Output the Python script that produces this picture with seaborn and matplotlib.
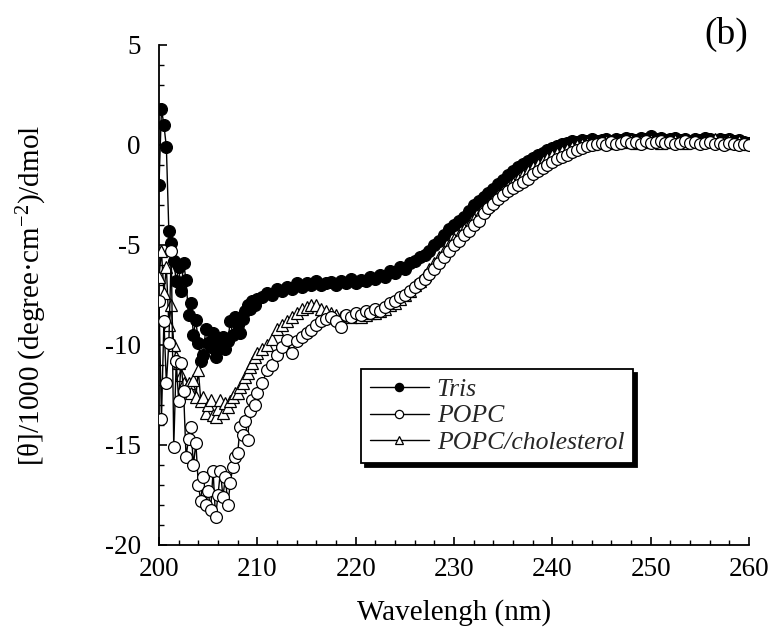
import numpy as np
import pandas as pd
import matplotlib
matplotlib.use("Agg")
import matplotlib.pyplot as plt
import seaborn as sns

# ---------------- data ----------------
wl_fine = [200.00, 200.25, 200.50, 200.75, 201.00, 201.25, 201.50, 201.75, 202.00, 202.25,
           202.50, 202.75, 203.00, 203.25, 203.50, 203.75, 204.00, 204.25, 204.50, 204.75,
           205.00, 205.25, 205.50, 205.75, 206.00, 206.25, 206.50, 206.75, 207.00, 207.25,
           207.50, 207.75, 208.00, 208.25, 208.50, 208.75, 209.00, 209.25, 209.50, 209.75,
           210.00]
wl_coarse = list(np.arange(210.5, 260.01, 0.5))
wavelength = wl_fine + wl_coarse

tris = [-2.0, 1.8, 1.0, -0.1, -4.3, -4.9, -5.8, -6.8, -6.1, -7.3,
        -5.9, -6.75, -8.5, -7.9, -9.5, -8.75, -9.9, -10.8, -10.5, -9.2,
        -9.9, -10.1, -9.4, -10.6, -9.9, -10.1, -9.6, -10.2, -9.8, -8.8,
        -9.5, -8.6, -9.0, -9.4, -8.7, -8.3, -8.0, -8.2, -7.8, -8.0,
        -7.7,
        -7.6, -7.4, -7.5, -7.2, -7.3, -7.1, -7.2, -6.9, -7.1, -6.9,
        -7.0, -6.8, -7.0, -6.9, -6.85, -7.0, -6.8, -6.9, -6.7, -6.9,
        -6.75, -6.8, -6.6, -6.7, -6.5, -6.6, -6.3, -6.4, -6.1, -6.2,
        -5.9, -5.8, -5.6, -5.5, -5.3, -5.0, -4.8, -4.5, -4.2, -4.0,
        -3.8, -3.6, -3.3, -3.0, -2.8, -2.6, -2.4, -2.2, -1.95, -1.75,
        -1.5, -1.3, -1.1, -0.95, -0.8, -0.65, -0.5, -0.4, -0.25, -0.15,
        -0.05, 0.05, 0.1, 0.2, 0.15, 0.25, 0.2, 0.3, 0.2, 0.25,
        0.3, 0.2, 0.3, 0.25, 0.35, 0.3, 0.25, 0.35, 0.3, 0.45,
        0.3, 0.35, 0.25, 0.3, 0.35, 0.25, 0.3, 0.2, 0.3, 0.25,
        0.35, 0.3, 0.2, 0.3, 0.25, 0.3, 0.2, 0.25, 0.15, 0.1]

popc = [-7.8, -13.7, -8.8, -11.9, -9.9, -5.3, -15.1, -10.8, -12.8, -10.9,
        -12.3, -15.6, -14.7, -14.1, -16.0, -14.9, -17.0, -17.8, -16.6, -18.0,
        -17.3, -18.25, -16.3, -18.6, -17.5, -16.3, -17.6, -16.6, -18.0, -16.9,
        -16.1, -15.6, -15.4, -14.1, -14.5, -13.8, -14.75, -13.3, -12.75, -13.0,
        -12.4,
        -11.9, -11.25, -11.0, -10.5, -10.1, -9.75, -10.4, -9.8, -9.6, -9.4,
        -9.25, -9.0, -8.8, -8.7, -8.6, -8.8, -9.1, -8.5, -8.6, -8.4,
        -8.5, -8.3, -8.4, -8.2, -8.3, -8.1, -7.9, -7.8, -7.6, -7.5,
        -7.3, -7.1, -6.9, -6.7, -6.45, -6.2, -5.9, -5.6, -5.3, -5.0,
        -4.8, -4.5, -4.3, -4.0, -3.8, -3.4, -3.15, -2.95, -2.7, -2.5,
        -2.3, -2.15, -2.0, -1.85, -1.7, -1.45, -1.3, -1.15, -1.0, -0.85,
        -0.7, -0.6, -0.5, -0.35, -0.25, -0.15, -0.05, 0.0, 0.05, 0.1,
        0.0, 0.15, 0.05, 0.1, 0.2, 0.1, 0.15, 0.05, 0.2, 0.1,
        0.15, 0.2, 0.1, 0.15, 0.05, 0.1, 0.2, 0.1, 0.15, 0.05,
        0.1, 0.15, 0.05, 0.1, 0.0, 0.1, 0.05, 0.0, 0.05, 0.0]

popc_chol = [-6.6, -5.3, -7.4, -6.1, -9.0, -8.0, -10.0, -10.6, -10.9, -11.5,
             -11.9, -12.2, -11.9, -12.4, -11.75, -12.6, -11.25, -12.8, -12.6, -13.4,
             -13.0, -12.75, -13.5, -13.6, -13.2, -12.75, -13.4, -12.9, -13.1, -12.8,
             -12.6, -12.4, -12.4, -12.1, -11.9, -11.6, -11.4, -11.1, -10.9, -10.6,
             -10.4,
             -10.2, -10.0, -9.7, -9.2, -9.0, -8.8, -8.6, -8.4, -8.2, -8.1,
             -8.0, -8.0, -8.2, -8.3, -8.4, -8.5, -8.6, -8.5, -8.6, -8.5,
             -8.6, -8.5, -8.4, -8.4, -8.3, -8.2, -8.0, -7.9, -7.7, -7.5,
             -7.3, -7.0, -6.8, -6.5, -6.2, -5.9, -5.6, -5.3, -5.0, -4.7,
             -4.5, -4.2, -4.0, -3.7, -3.5, -3.2, -3.0, -2.75, -2.5, -2.3,
             -2.1, -1.9, -1.7, -1.5, -1.3, -1.1, -0.95, -0.8, -0.65, -0.5,
             -0.4, -0.3, -0.2, -0.1, 0.0, 0.05, 0.1, 0.05, 0.15, 0.1,
             0.2, 0.15, 0.1, 0.2, 0.15, 0.25, 0.1, 0.2, 0.15, 0.25,
             0.2, 0.1, 0.2, 0.15, 0.25, 0.2, 0.1, 0.2, 0.25, 0.15,
             0.2, 0.25, 0.3, 0.2, 0.15, 0.25, 0.1, 0.2, 0.1, 0.05]

series_names = ["Tris", "POPC", "POPC/cholesterol"]
x_ticks = [200, 210, 220, 230, 240, 250, 260]
y_ticks = [-20, -15, -10, -5, 0, 5]

# ---------------- style ----------------
sns.set_theme(style="ticks")
plt.rcParams["font.family"] = ["Liberation Serif", "DejaVu Serif"]
plt.rcParams["mathtext.fontset"] = "custom"
plt.rcParams["mathtext.rm"] = "Liberation Serif"
plt.rcParams["mathtext.it"] = "Liberation Serif:italic"
plt.rcParams["axes.unicode_minus"] = False

fig = plt.figure(figsize=(7.73, 6.34), dpi=100)
ax = fig.add_axes([159 / 773, 89 / 634, 590 / 773, 500 / 634])

styles = {
    "Tris": dict(marker="o", mfc="black", zorder=3),
    "POPC": dict(marker="o", mfc="white", zorder=5),
    "POPC/cholesterol": dict(marker="^", mfc="white", zorder=4),
}
data = {"Tris": tris, "POPC": popc, "POPC/cholesterol": popc_chol}

for name in series_names:
    df = pd.DataFrame({"wl": wavelength, "val": data[name]})
    st = styles[name]
    sns.lineplot(data=df, x="wl", y="val", ax=ax, color="black", lw=1.0,
                 marker=st["marker"], markersize=8.5, markerfacecolor=st["mfc"],
                 markeredgecolor="black", markeredgewidth=0.9, label=name,
                 zorder=st["zorder"], sort=False, estimator=None)

ax.set_xlim(200, 260)
ax.set_ylim(-20, 5)
ax.set_xticks(x_ticks)
ax.set_yticks(y_ticks)
ax.set_xticks(np.arange(200, 261, 2), minor=True)
ax.set_yticks(np.arange(-20, 5.1, 1), minor=True)
ax.tick_params(axis="both", which="major", direction="in", length=6, width=1.2,
               labelsize=19.5, color="black", labelcolor="black")
ax.tick_params(axis="both", which="minor", direction="in", length=3.5, width=1.0,
               color="black")
ax.tick_params(axis="x", which="major", pad=9)
ax.tick_params(axis="y", which="major", pad=13)

for s in ["top", "right"]:
    ax.spines[s].set_visible(False)
for s in ["left", "bottom"]:
    ax.spines[s].set_color("black")
    ax.spines[s].set_linewidth(1.3)

ax.set_xlabel("Wavelengh (nm)", fontsize=21, color="black", labelpad=12)
ax.set_ylabel("[θ]/1000 (degree·cm$^{-2}$)/dmol", fontsize=21, color="black",
              labelpad=40)

leg = ax.legend(loc="center", bbox_to_anchor=(0.573, 0.258), frameon=True,
                fancybox=False, shadow={"color": "black", "alpha": 1.0, "ox": 3, "oy": -3},
                edgecolor="black", framealpha=1.0, markerscale=0.7,
                prop={"family": "Liberation Serif", "style": "italic", "size": 18.5},
                handlelength=2.3, handletextpad=0.3, labelspacing=0.15,
                borderpad=0.35, borderaxespad=0)
leg.get_frame().set_linewidth(1.3)

fig.text(0.940, 0.946, "(b)", fontsize=27, ha="center", va="center", color="black")

fig.savefig("out.png", dpi=100)
